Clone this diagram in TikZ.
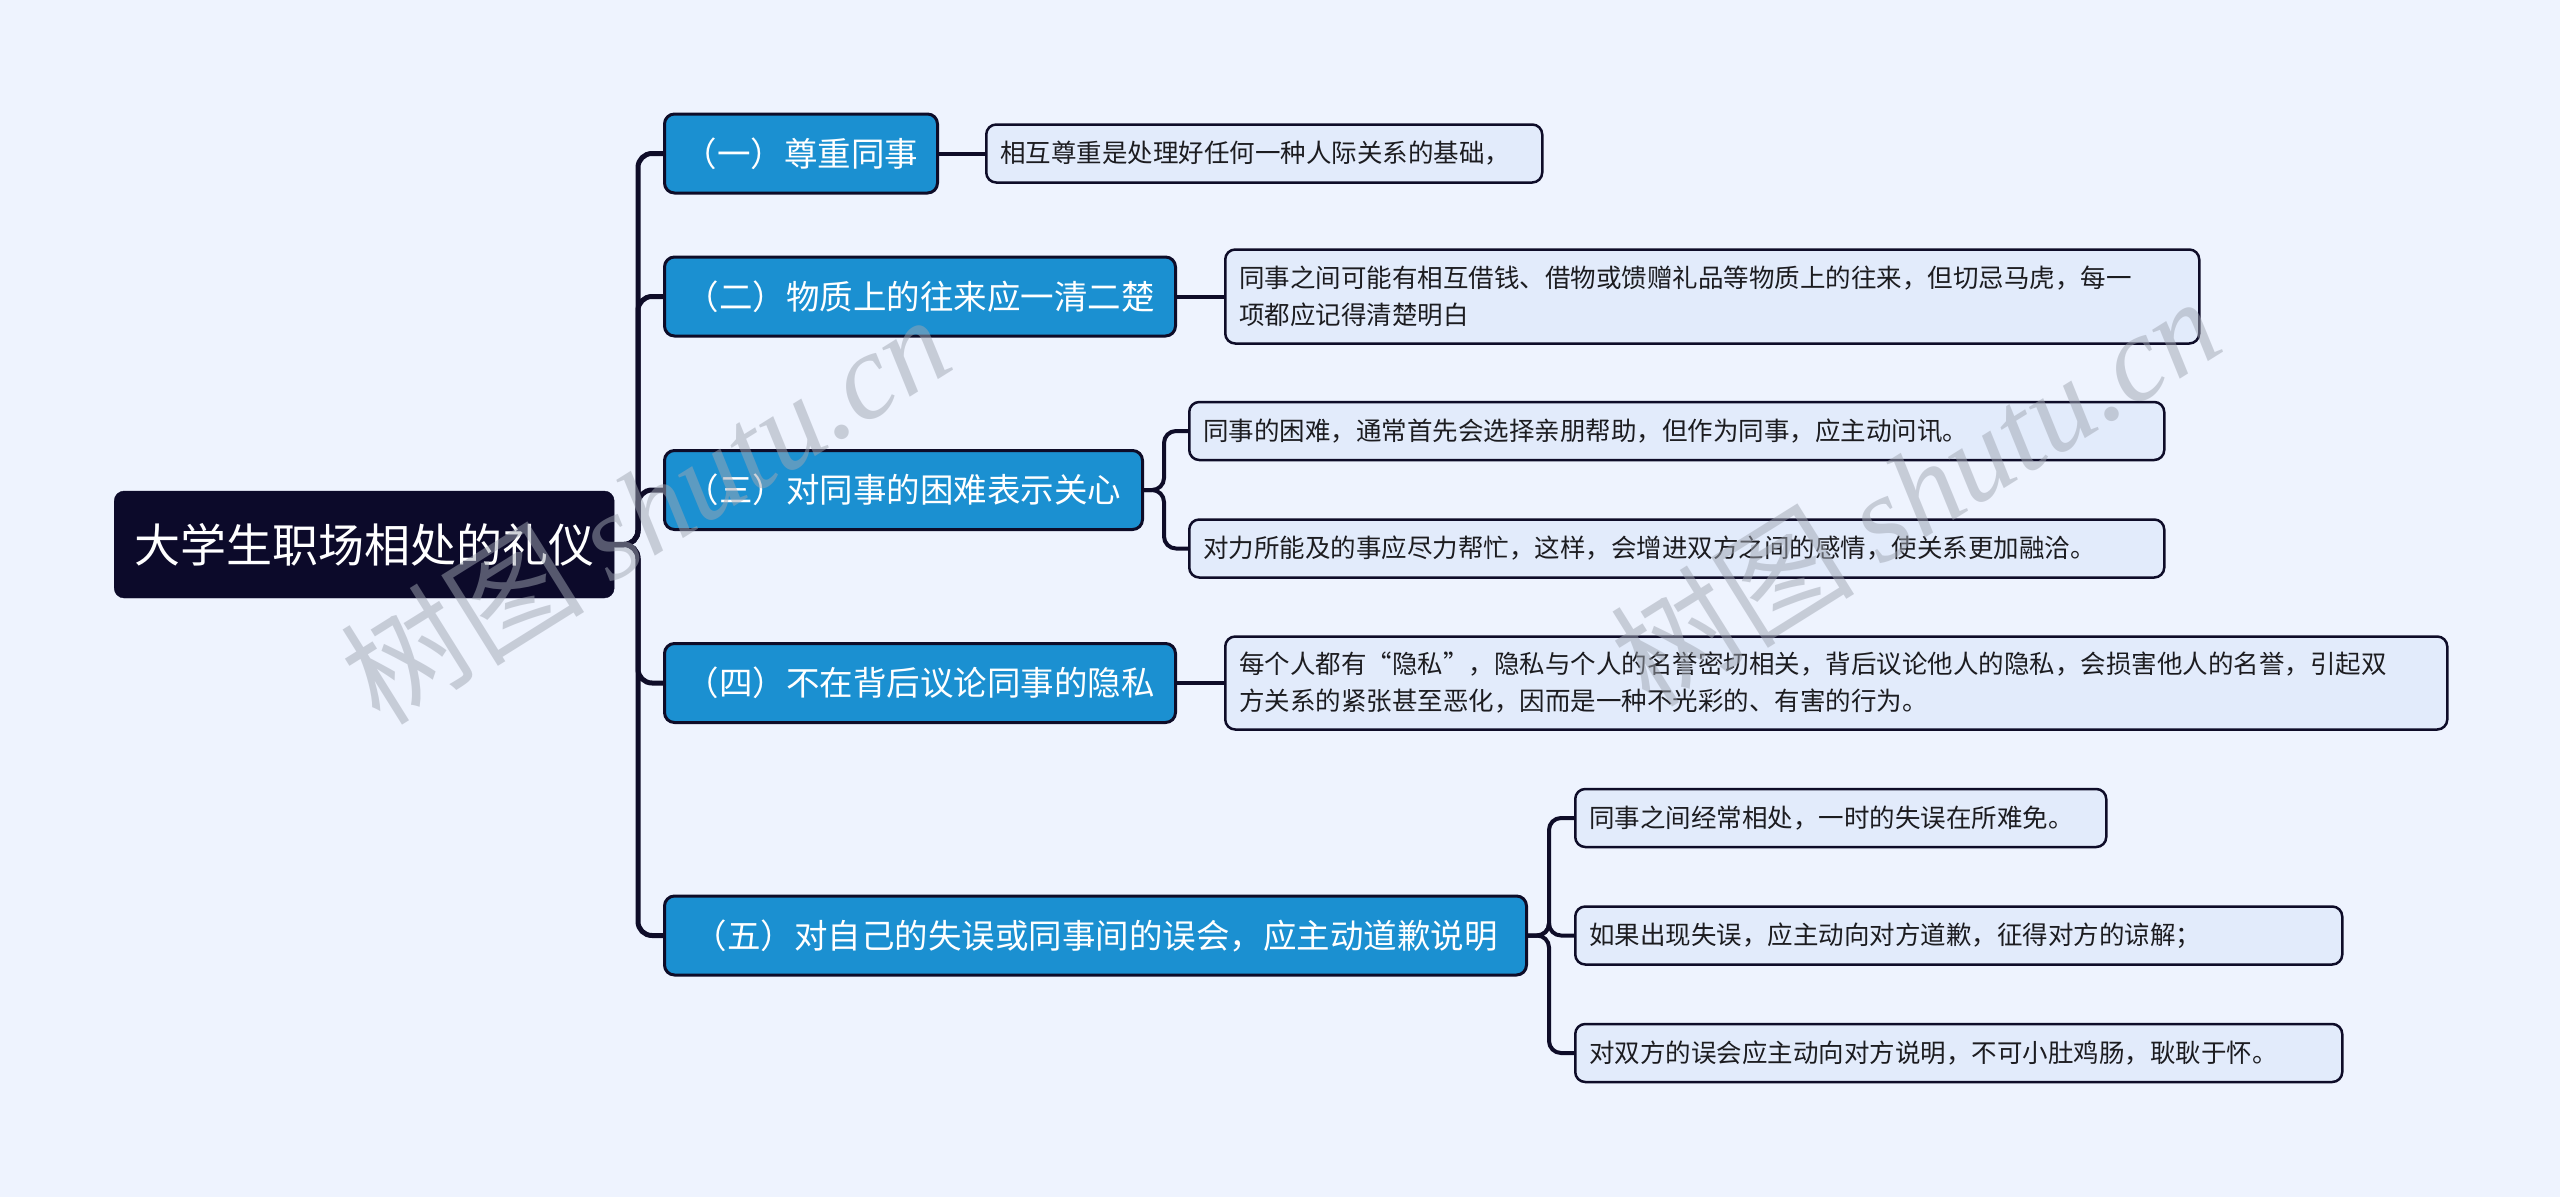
\documentclass[tikz,border=0pt]{standalone}
\usepackage{fontspec}
\setmainfont{Noto Sans CJK SC}
\newfontfamily\wmlatin{Liberation Serif}
\definecolor{bgc}{RGB}{238,243,254}
\definecolor{rootc}{RGB}{12,10,42}
\definecolor{brc}{RGB}{27,144,209}
\definecolor{leafc}{RGB}{226,235,251}
\definecolor{linec}{RGB}{14,12,40}
\definecolor{txtc}{RGB}{28,28,32}
\definecolor{wmc}{RGB}{160,166,178}
\begin{document}
\begin{tikzpicture}[x=1pt,y=-1pt,
  rootbox/.style={fill=rootc, draw=rootc, rounded corners=10pt, text=white,
    font=\fontsize{46pt}{52pt}\selectfont, inner sep=0pt,
    minimum width=500pt, minimum height=107pt, anchor=west},
  branchbox/.style={fill=brc, draw=linec, line width=3pt, rounded corners=10pt,
    text=white, font=\fontsize{33.5pt}{38pt}\selectfont, inner sep=0pt,
    minimum height=79pt, anchor=west},
  leafbox/.style={fill=leafc, draw=linec, line width=2.5pt, rounded corners=10pt,
    text=txtc, font=\fontsize{25.5pt}{37pt}\selectfont, inner xsep=14pt,
    inner ysep=0pt, minimum height=58pt, align=left, anchor=west},
  trunk/.style={draw=linec, line width=5pt, rounded corners=14pt},
  twig/.style={draw=linec, line width=4pt, rounded corners=12pt},
  wmark/.style={text=wmc, opacity=0.5, rotate=32,
    font=\fontsize{122pt}{126pt}\selectfont}
]
\fill[bgc] (0,0) rectangle (2560,1197);
\useasboundingbox (0,0) rectangle (2560,1197);

% root
\node[rootbox] (root) at (114,544.5) {大学生职场相处的礼仪};

% branches
\node[branchbox, minimum width=273pt] (b1) at (663,153.5) {（一）尊重同事};
\node[branchbox, minimum width=511pt] (b2) at (663,296.5) {（二）物质上的往来应一清二楚};
\node[branchbox, minimum width=478pt] (b3) at (663,490) {（三）对同事的困难表示关心};
\node[branchbox, minimum width=511pt] (b4) at (663,683) {（四）不在背后议论同事的隐私};
\node[branchbox, minimum width=862pt] (b5) at (663,935.5) {（五）对自己的失误或同事间的误会，应主动道歉说明};

% leaves
\node[leafbox, text width=528pt] (l1) at (985,153.5) {相互尊重是处理好任何一种人际关系的基础，};
\node[leafbox, text width=946pt, minimum height=94pt] (l2) at (1224,296.5)
  {同事之间可能有相互借钱、借物或馈赠礼品等物质上的往来，但切忌马虎，每一\\项都应记得清楚明白};
\node[leafbox, text width=947pt] (l3a) at (1188,431) {同事的困难，通常首先会选择亲朋帮助，但作为同事，应主动问讯。};
\node[leafbox, text width=947pt] (l3b) at (1188,548.5) {对力所能及的事应尽力帮忙，这样，会增进双方之间的感情，使关系更加融洽。};
\node[leafbox, text width=1194pt, minimum height=93pt] (l4) at (1224,683)
  {每个人都有“隐私”，隐私与个人的名誉密切相关，背后议论他人的隐私，会损害他人的名誉，引起双\\方关系的紧张甚至恶化，因而是一种不光彩的、有害的行为。};
\node[leafbox, text width=503pt] (l5a) at (1574,818) {同事之间经常相处，一时的失误在所难免。};
\node[leafbox, text width=739pt] (l5b) at (1574,935.5) {如果出现失误，应主动向对方道歉，征得对方的谅解；};
\node[leafbox, text width=739pt] (l5c) at (1574,1053) {对双方的误会应主动向对方说明，不可小肚鸡肠，耿耿于怀。};

% connectors root -> branches
\coordinate (hub) at (638,544.5);
\foreach \b in {b1,b2,b3,b4,b5}{
  \draw[trunk] (root.east) -- (hub) |- (\b.west);
}

% branch -> leaves
\draw[twig] (b1.east) -- (l1.west);
\draw[twig] (b2.east) -- (l2.west);
\draw[twig] (b4.east) -- (l4.west);
\coordinate (h3) at (1164,490);
\draw[twig] (b3.east) -- (h3) |- (l3a.west);
\draw[twig] (b3.east) -- (h3) |- (l3b.west);
\coordinate (h5) at (1549,935.5);
\draw[twig] (b5.east) -- (h5) |- (l5a.west);
\draw[twig] (b5.east) -- (h5) |- (l5b.west);
\draw[twig] (b5.east) -- (h5) |- (l5c.west);

% watermarks
\node[wmark] (wm1) at (645,508) {树图 {\wmlatin\itshape shutu.cn}};
\node[wmark] (wm2) at (1915,490) {树图 {\wmlatin\itshape shutu.cn}};
\end{tikzpicture}
\end{document}
